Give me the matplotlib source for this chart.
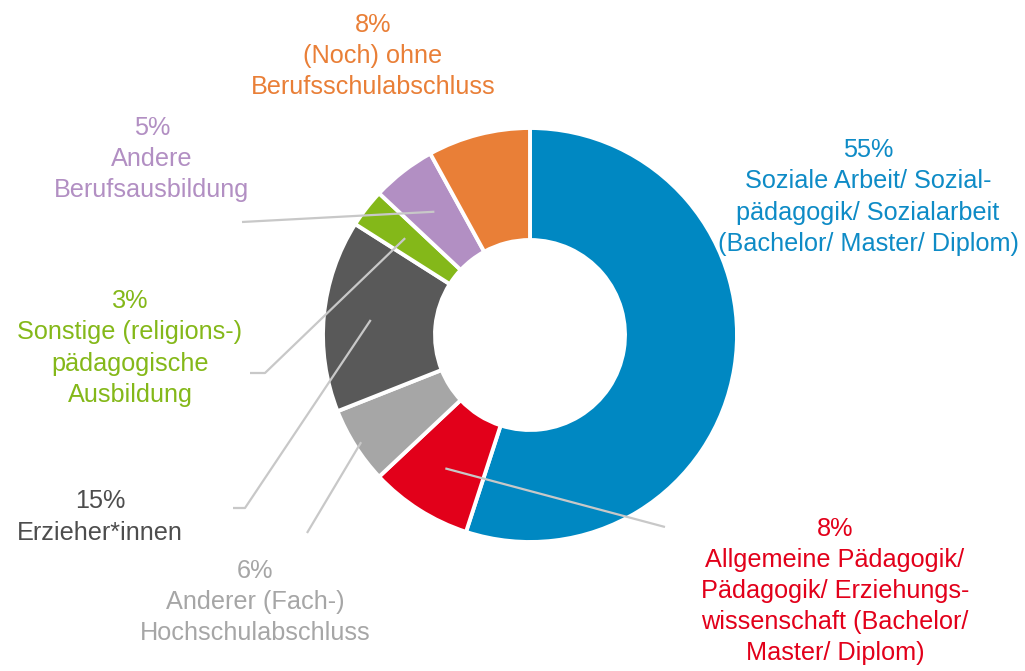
import numpy as np
import matplotlib.pyplot as plt

# data
labels = ['Soziale Arbeit/ Sozial-\npädagogik/ Sozialarbeit\n(Bachelor/ Master/ Diplom)',
          'Allgemeine Pädagogik/\nPädagogik/ Erziehungs-\nwissenschaft (Bachelor/\nMaster/ Diplom)',
          'Anderer (Fach-)\nHochschulabschluss',
          'Erzieher*innen',
          'Sonstige (religions-)\npädagogische\nAusbildung',
          'Andere\nBerufsausbildung',
          '(Noch) ohne\nBerufsschulabschluss']
shares = [55, 8, 6, 15, 3, 5, 8]
colors = ['#0088C2', '#E2001A', '#A6A6A6', '#595959', '#84B819', '#B28FC3', '#E97F37']
text_colors = ['#0E8BC6', '#E2001A', '#A6A6A6', '#4D4D4D', '#84B819', '#B28FC3', '#E97F37']

# layout (image pixel coords, y downwards)
W, H = 1025, 671
center = (530, 335)
radius = 207
label_pos = [(868, 197), (835, 591), (255, 602), (100, 517),
             (130, 348), (152, 159), (373, 56)]
# leader line: radius of start point, then path points
leader_r = [None, 158, 200, 160, 158, 156, None]
leader_path = [None,
               [(665, 527)],
               [(307, 533)],
               [(245, 508), (233, 508)],
               [(265, 373), (250, 373)],
               [(242, 222)],
               None]

plt.rcParams['font.family'] = ['Liberation Sans', 'DejaVu Sans']

fig = plt.figure(figsize=(W / 100, H / 100), dpi=100)
ax = fig.add_axes([0, 0, 1, 1])

cx, cy = center[0], H - center[1]
wedges, _ = ax.pie(shares, colors=colors, startangle=90, counterclock=False,
                   radius=radius, center=(cx, cy), frame=True,
                   wedgeprops=dict(width=112, edgecolor='white', linewidth=2.8))
ax.set_xlim(0, W)
ax.set_ylim(0, H)
ax.set_aspect('equal')
ax.axis('off')

for i, w in enumerate(wedges):
    if leader_r[i] is not None:
        ang = np.deg2rad((w.theta1 + w.theta2) / 2)
        xs = [cx + leader_r[i] * np.cos(ang)]
        ys = [cy + leader_r[i] * np.sin(ang)]
        for px, py in leader_path[i]:
            xs.append(px)
            ys.append(H - py)
        ax.plot(xs, ys, color='#C8C8C8', lw=1.6, solid_capstyle='butt', zorder=3)
    lx, ly = label_pos[i]
    ax.text(lx, H - ly, f'{shares[i]}%\n{labels[i]}', color=text_colors[i],
            ha='center', va='center', multialignment='center',
            fontsize=18.2, linespacing=1.37)

fig.savefig('out.png', dpi=100)
